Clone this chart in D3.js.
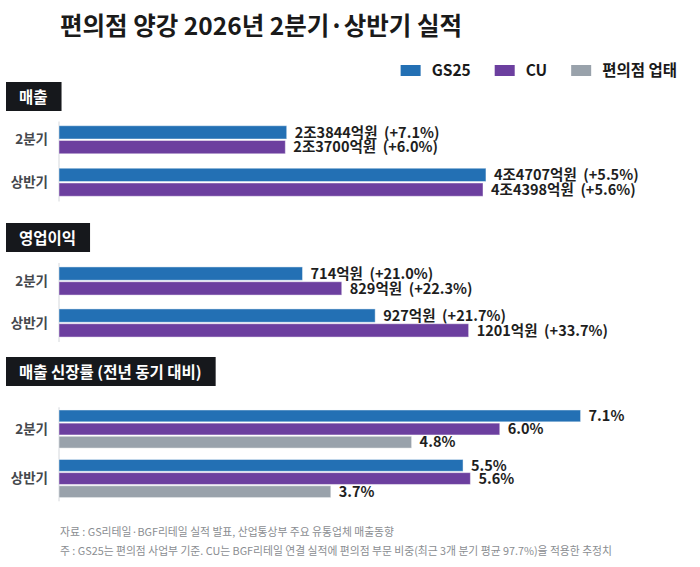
<!DOCTYPE html>
<html>
<head>
<meta charset="utf-8">
<script src="https://cdn.jsdelivr.net/npm/d3@7"></script>
<style>
  body { margin: 0; background: #fff; }
  svg { display: block; font-family: "Noto Sans CJK KR", "Noto Sans", sans-serif; }
</style>
</head>
<body>
<svg id="chart" width="700" height="567"></svg>
<script>
// data
var periods = ["2분기", "상반기"];
var seriesNames = ["GS25", "CU", "편의점 업태"];
var seriesColors = ["#2370b4", "#6c3f9f", "#99a2ab"];

// 매출 (억원) and YoY %
var salesGS = [23844, 44707];
var salesCU = [23700, 44398];
var salesGrowthGS = [7.1, 5.5];
var salesGrowthCU = [6.0, 5.6];

// 영업이익 (억원) and YoY %
var profitGS = [714, 927];
var profitCU = [829, 1201];
var profitGrowthGS = [21.0, 21.7];
var profitGrowthCU = [22.3, 33.7];

// 매출 신장률 (%)
var rateGS = [7.1, 5.5];
var rateCU = [6.0, 5.6];
var rateIndustry = [4.8, 3.7];

var notes = [
    "자료 : GS리테일·BGF리테일 실적 발표, 산업통상부 주요 유통업체 매출동향",
    "주 : GS25는 편의점 사업부 기준. CU는 BGF리테일 연결 실적에 편의점 부문 비중(최근 3개 분기 평균 97.7%)을 적용한 추정치"
];

function fmtWon(v) {
    var jo = Math.floor(v / 10000);
    return (jo > 0 ? jo + "조" + (v % 10000) : v) + "억원";
}
function fmtPct(v) { return "(+" + v.toFixed(1) + "%)"; }

var svg = d3.select("#chart");
var x0 = 59;

svg.append("text")
    .attr("x", 60).attr("y", 35)
    .attr("font-size", 24.5).attr("font-weight", 700)
    .attr("fill", "#1a1a1a")
    .text("편의점 양강 2026년 2분기·상반기 실적");

// legend, laid out right to left
var legX = 677;
for (var i = seriesNames.length - 1; i >= 0; i--) {
    var g = svg.append("g");
    var t = g.append("text")
        .attr("y", 76).attr("font-size", 15.5).attr("font-weight", 700)
        .attr("fill", "#1a1a1a")
        .text(seriesNames[i]);
    var w = t.node().getComputedTextLength();
    t.attr("x", legX - w);
    g.append("rect")
        .attr("x", legX - w - 31).attr("y", 65)
        .attr("width", 20).attr("height", 11)
        .attr("fill", seriesColors[i]);
    legX = legX - w - 31 - 24;
}

var panels = [
    {
        title: "매출", boxTop: 82, range: [118.5, 203.5], pad: 0.34, xMax: 60000,
        series: [
            { values: salesGS, color: seriesColors[0], label: function (k) { return fmtWon(salesGS[k]) + "  " + fmtPct(salesGrowthGS[k]); } },
            { values: salesCU, color: seriesColors[1], label: function (k) { return fmtWon(salesCU[k]) + "  " + fmtPct(salesGrowthCU[k]); } }
        ]
    },
    {
        title: "영업이익", boxTop: 223, range: [260, 344], pad: 0.33, xMax: 1680,
        series: [
            { values: profitGS, color: seriesColors[0], label: function (k) { return fmtWon(profitGS[k]) + "  " + fmtPct(profitGrowthGS[k]); } },
            { values: profitCU, color: seriesColors[1], label: function (k) { return fmtWon(profitCU[k]) + "  " + fmtPct(profitGrowthCU[k]); } }
        ]
    },
    {
        title: "매출 신장률 (전년 동기 대비)", boxTop: 357, range: [404.3, 503.3], pad: 0.23, xMax: 7.8,
        series: [
            { values: rateGS, color: seriesColors[0], label: function (k) { return rateGS[k].toFixed(1) + "%"; } },
            { values: rateCU, color: seriesColors[1], label: function (k) { return rateCU[k].toFixed(1) + "%"; } },
            { values: rateIndustry, color: seriesColors[2], label: function (k) { return rateIndustry[k].toFixed(1) + "%"; } }
        ]
    }
];

panels.forEach(function (p) {
    // section tag
    var tag = svg.append("g");
    var tt = tag.append("text")
        .attr("x", 19).attr("y", p.boxTop + 20.5)
        .attr("font-size", 15.5).attr("font-weight", 700)
        .attr("fill", "#fff")
        .text(p.title);
    var tw = tt.node().getComputedTextLength();
    tag.insert("rect", "text")
        .attr("x", 6).attr("y", p.boxTop)
        .attr("width", tw + 27).attr("height", 29)
        .attr("fill", "#16181c");

    var y = d3.scaleBand().domain(periods).range(p.range)
        .paddingInner(p.pad).paddingOuter(p.pad / 2);
    var yi = d3.scaleBand().domain(d3.range(p.series.length))
        .range([0, y.bandwidth()]).paddingInner(0.1);
    var x = d3.scaleLinear().domain([0, p.xMax]).range([x0, 632]);

    svg.append("line")
        .attr("x1", x0).attr("x2", x0)
        .attr("y1", p.range[0] + 3).attr("y2", p.range[1] - 2)
        .attr("stroke", "#d5d8dc").attr("stroke-width", 1);

    svg.append("g").selectAll("text").data(periods).join("text")
        .attr("x", 48)
        .attr("y", function (d) { return y(d) + y.bandwidth() / 2; })
        .attr("dy", "0.35em")
        .attr("text-anchor", "end")
        .attr("font-size", 13.5).attr("font-weight", 700)
        .attr("fill", "#45484d")
        .text(function (d) { return d; });

    p.series.forEach(function (s, si) {
        var g = svg.append("g");
        g.selectAll("rect").data(periods).join("rect")
            .attr("x", x(0))
            .attr("y", function (d) { return y(d) + yi(si); })
            .attr("width", function (d, k) { return x(s.values[k]) - x(0); })
            .attr("height", yi.bandwidth())
            .attr("fill", s.color)
            .attr("stroke", "#fff").attr("stroke-opacity", 0.45).attr("stroke-width", 1);
        g.selectAll("text").data(periods).join("text")
            .attr("x", function (d, k) { return x(s.values[k]) + 8; })
            .attr("y", function (d) { return y(d) + yi(si) + yi.bandwidth() / 2; })
            .attr("dy", "0.36em")
            .attr("font-size", 14.5).attr("font-weight", 700)
            .attr("fill", "#1e1e1e")
            .style("white-space", "pre")
            .text(function (d, k) { return s.label(k); });
    });
});

svg.append("g").selectAll("text").data(notes).join("text")
    .attr("x", 60)
    .attr("y", function (d, i) { return 536 + i * 19; })
    .attr("font-size", 10.8)
    .attr("fill", "#8a8d91")
    .text(function (d) { return d; });
</script>
</body>
</html>
